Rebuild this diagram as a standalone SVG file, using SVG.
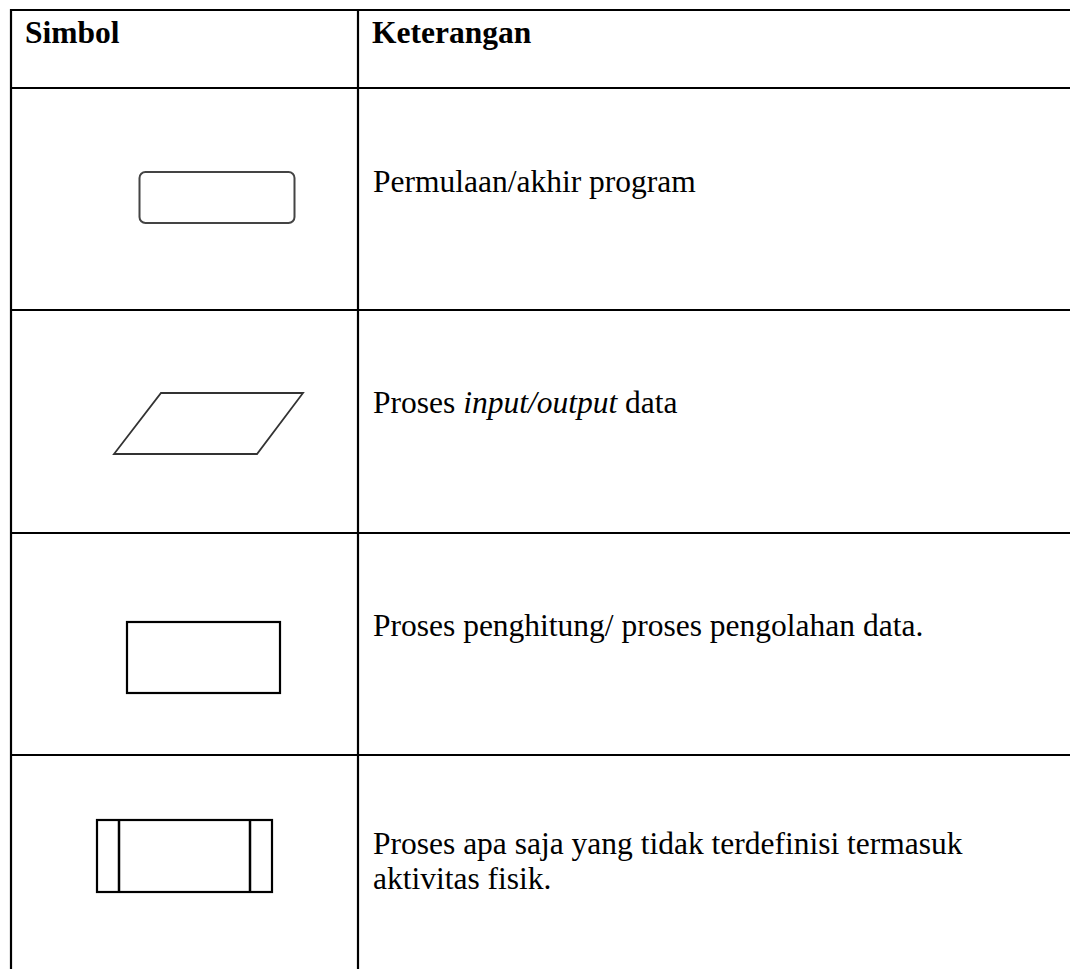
<svg xmlns="http://www.w3.org/2000/svg" width="1070" height="969" viewBox="0 0 1070 969">
<style>
.grid{stroke:#000;stroke-width:2.2;fill:none}
.t{font-family:"Liberation Serif","Times New Roman",serif;font-size:31.5px;fill:#000}
.h{font-weight:bold}
.sym{fill:#fff;stroke:#000;stroke-width:2.2}
</style>
<rect width="1070" height="969" fill="#fff"/>
<g id="table">
<line class="grid" x1="10" y1="10" x2="1070" y2="10"/>
<line class="grid" x1="10" y1="88" x2="1070" y2="88"/>
<line class="grid" x1="10" y1="310" x2="1070" y2="310"/>
<line class="grid" x1="10" y1="533" x2="1070" y2="533"/>
<line class="grid" x1="10" y1="755" x2="1070" y2="755"/>
<line class="grid" x1="11" y1="9" x2="11" y2="969"/>
<line class="grid" x1="358" y1="9" x2="358" y2="969"/>
</g>
<g id="header">
<text class="t h" x="25" y="43">Simbol</text>
<text class="t h" x="372" y="43">Keterangan</text>
</g>
<g id="row1">
<rect x="139.5" y="172" width="155" height="51" rx="6" fill="#fff" stroke="#444" stroke-width="2"/>
<text class="t" x="373" y="192">Permulaan/akhir program</text>
</g>
<g id="row2">
<polygon points="161,393 303,393 257,454 114,454" fill="#fff" stroke="#333" stroke-width="1.8"/>
<text class="t" x="373" y="413">Proses <tspan font-style="italic">input/output</tspan> data</text>
</g>
<g id="row3">
<rect class="sym" x="127" y="622" width="153" height="71"/>
<text class="t" x="373" y="636">Proses penghitung/ proses pengolahan data.</text>
</g>
<g id="row4">
<rect class="sym" x="97" y="820" width="175" height="72" stroke-width="2.5"/>
<line x1="119" y1="820" x2="119" y2="892" stroke="#000" stroke-width="2.5"/>
<line x1="250" y1="820" x2="250" y2="892" stroke="#000" stroke-width="2.5"/>
<text class="t" x="373" y="854">Proses apa saja yang tidak terdefinisi termasuk</text>
<text class="t" x="373" y="889">aktivitas fisik.</text>
</g>
</svg>
